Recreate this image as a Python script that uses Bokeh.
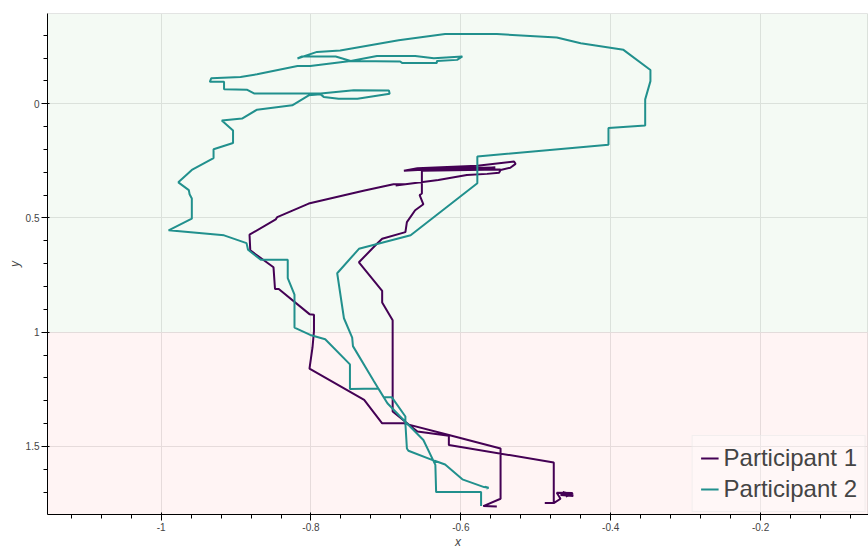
from bokeh.plotting import figure
from bokeh.models import Range1d, BoxAnnotation, NumeralTickFormatter
from bokeh.embed import file_html
from bokeh.resources import INLINE

# ---- data ----
series_names = ["Participant 1", "Participant 2"]
series_colors = ["#440154", "#21908d"]

p1_x = [-0.552, -0.570, -0.547, -0.547, -0.616, -0.676, -0.705, -0.729, -0.802, -0.798,
        -0.796, -0.796, -0.802, -0.843, -0.848, -0.850, -0.881, -0.882, -0.847, -0.845,
        -0.803, -0.730, -0.690, -0.674, -0.687, -0.630, -0.592, -0.565, -0.549, -0.547,
        -0.534, -0.527, -0.529, -0.578, -0.658, -0.676, -0.621, -0.554, -0.607, -0.647,
        -0.574, -0.547, -0.652, -0.652, -0.655, -0.650, -0.661, -0.672, -0.674, -0.705,
        -0.712, -0.736, -0.705, -0.705, -0.691, -0.691, -0.658, -0.616, -0.616, -0.476,
        -0.476, -0.488, -0.476, -0.467, -0.472, -0.451, -0.467, -0.450, -0.464, -0.453,
        -0.460, -0.450]
p1_y = [1.763, 1.761, 1.729, 1.509, 1.450, 1.399, 1.399, 1.296, 1.159, 1.068,
        0.995, 0.924, 0.921, 0.811, 0.811, 0.716, 0.642, 0.573, 0.506, 0.496,
        0.437, 0.381, 0.352, 0.352, 0.358, 0.334, 0.312, 0.307, 0.302, 0.290,
        0.280, 0.263, 0.253, 0.271, 0.282, 0.293, 0.283, 0.279, 0.290, 0.292,
        0.285, 0.288, 0.293, 0.393, 0.400, 0.440, 0.466, 0.518, 0.562, 0.591,
        0.613, 0.694, 0.819, 0.870, 0.948, 1.347, 1.435, 1.453, 1.494, 1.570,
        1.748, 1.748, 1.748, 1.729, 1.703, 1.704, 1.713, 1.717, 1.700, 1.708,
        1.719, 1.706]

p2_x = [-0.566, -0.563, -0.568, -0.563, -0.569, -0.598, -0.621, -0.635, -0.670, -0.672,
        -0.674, -0.674, -0.692, -0.703, -0.716, -0.744, -0.745, -0.756, -0.765, -0.736,
        -0.667, -0.578, -0.578, -0.403, -0.403, -0.354, -0.354, -0.347, -0.347, -0.383,
        -0.440, -0.472, -0.552, -0.621, -0.683, -0.761, -0.792, -0.818, -0.812, -0.767,
        -0.747, -0.712, -0.661, -0.636, -0.598, -0.605, -0.632, -0.632, -0.678, -0.681,
        -0.747, -0.801, -0.818, -0.872, -0.894, -0.933, -0.935, -0.916, -0.916, -0.885,
        -0.876, -0.803, -0.787, -0.743, -0.696, -0.695, -0.738, -0.763, -0.783, -0.787,
        -0.803, -0.825, -0.872, -0.892, -0.919, -0.904, -0.904, -0.930, -0.930, -0.959,
        -0.977, -0.963, -0.962, -0.959, -0.959, -0.990, -0.916, -0.886, -0.884, -0.867,
        -0.831, -0.831, -0.822, -0.822, -0.801, -0.781, -0.748, -0.748, -0.710, -0.698,
        -0.681, -0.650, -0.634, -0.633, -0.573, -0.573]
p2_y = [1.684, 1.681, 1.676, 1.681, 1.678, 1.644, 1.579, 1.563, 1.519, 1.509,
        1.399, 1.369, 1.285, 1.285, 1.215, 1.061, 1.024, 0.939, 0.742, 0.635,
        0.576, 0.348, 0.231, 0.180, 0.106, 0.095, -0.019, -0.099, -0.148, -0.236,
        -0.265, -0.290, -0.305, -0.305, -0.278, -0.233, -0.227, -0.198, -0.207, -0.207,
        -0.187, -0.209, -0.209, -0.199, -0.207, -0.192, -0.187, -0.178, -0.178, -0.185,
        -0.187, -0.165, -0.165, -0.129, -0.117, -0.112, -0.096, -0.096, -0.063, -0.061,
        -0.045, -0.045, -0.045, -0.059, -0.058, -0.044, -0.022, -0.022, -0.030, -0.041,
        -0.037, 0.007, 0.026, 0.065, 0.073, 0.117, 0.172, 0.199, 0.238, 0.290,
        0.344, 0.378, 0.396, 0.415, 0.503, 0.554, 0.576, 0.610, 0.639, 0.683,
        0.683, 0.763, 0.836, 0.980, 1.012, 1.031, 1.141, 1.249, 1.247, 1.311,
        1.369, 1.472, 1.581, 1.700, 1.700, 1.761]

x_limits = (-1.1516, -0.056)
y_limits = (1.798, -0.395)   # inverted axis
threshold = 1.0

p = figure(width=868, height=551,
           x_range=Range1d(*x_limits), y_range=Range1d(*y_limits),
           output_backend="svg", toolbar_location=None,
           x_axis_label="x", y_axis_label="y",
           min_border_right=0, min_border_top=13, min_border_bottom=0, min_border_left=47)

good = BoxAnnotation(top=y_limits[1], bottom=threshold, fill_color="green",
                     fill_alpha=0.045, line_alpha=0, level="underlay")
bad = BoxAnnotation(top=threshold, bottom=y_limits[0], fill_color="red",
                    fill_alpha=0.045, line_alpha=0, level="underlay")
p.add_layout(good)
p.add_layout(bad)

p.line(p1_x, p1_y, color=series_colors[0], line_width=2, legend_label=series_names[0])
p.line(p2_x, p2_y, color=series_colors[1], line_width=2, legend_label=series_names[1])

p.xaxis.formatter = NumeralTickFormatter(format="0.[0]")
p.yaxis.formatter = NumeralTickFormatter(format="0.[0]")
for ax in (p.xaxis[0], p.yaxis[0]):
    ax.major_label_text_font_size = "10px"
    ax.axis_label_text_font_size = "12px"
    ax.axis_label_standoff = 1
    ax.major_label_standoff = 2

p.legend.location = "bottom_right"
p.legend.label_text_font_size = "24px"
p.legend.label_text_color = "#444444"
p.legend.background_fill_alpha = 0.3
p.legend.margin = 2
p.legend.padding = 8
p.legend.glyph_width = 18

open("out.html", "w").write(file_html(p, INLINE))
